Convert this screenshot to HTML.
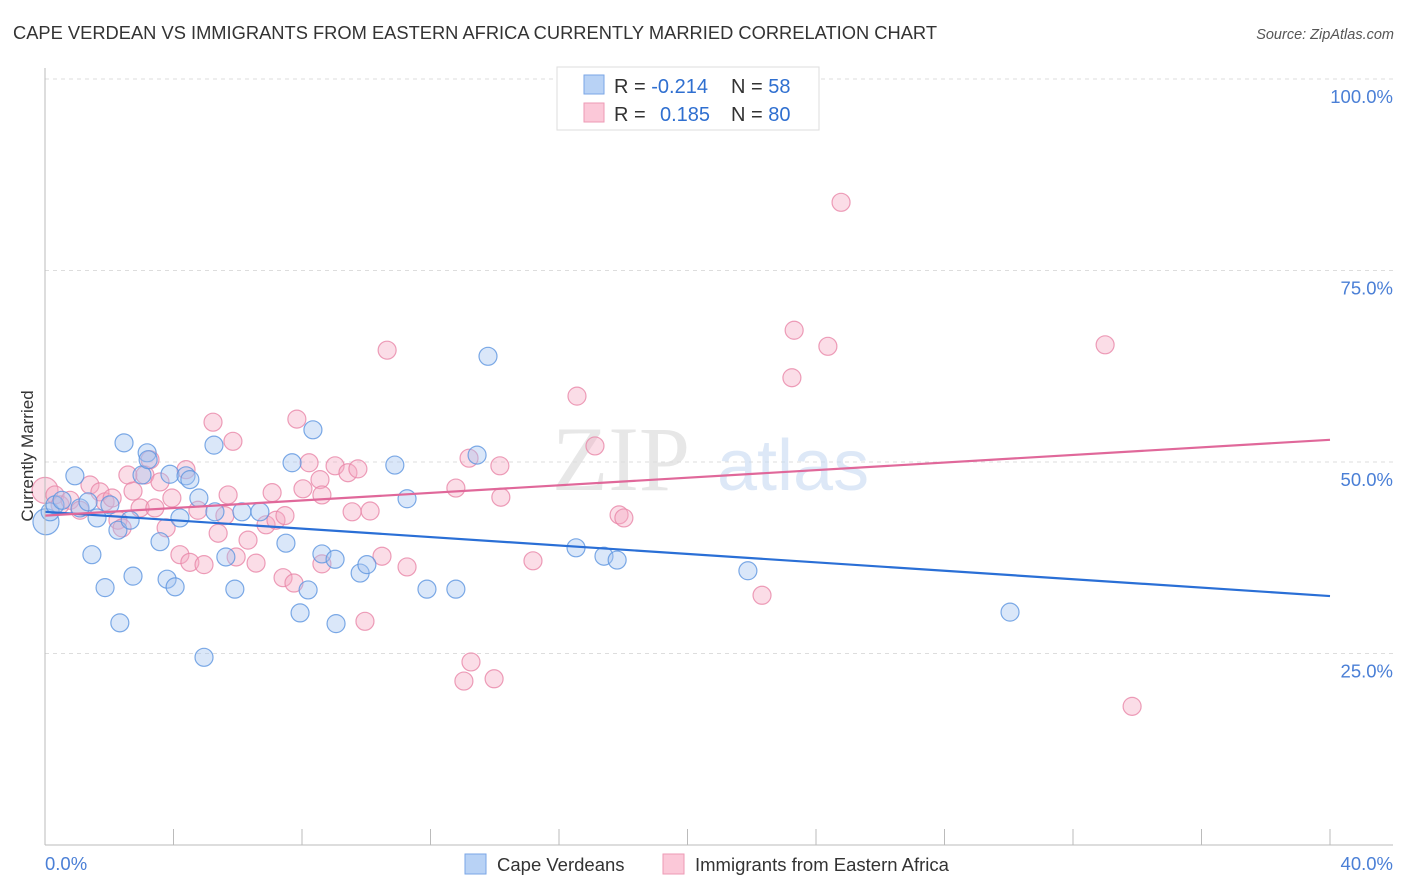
<!DOCTYPE html>
<html><head><meta charset="utf-8"><style>
body{margin:0;background:#fff;font-family:"Liberation Sans",sans-serif}
svg{display:block}
</style></head><body>
<svg width="1406" height="892" xmlns="http://www.w3.org/2000/svg">
<text x="13" y="39" font-size="18" textLength="924" lengthAdjust="spacingAndGlyphs" fill="#333">CAPE VERDEAN VS IMMIGRANTS FROM EASTERN AFRICA CURRENTLY MARRIED CORRELATION CHART</text>
<text x="1394" y="39" font-size="14.5" fill="#555" font-style="italic" text-anchor="end">Source: ZipAtlas.com</text>
<g id="grid"></g>
<text x="690" y="490" font-size="92" fill="#ddd" font-family="Liberation Serif" text-anchor="end" opacity="0.7">ZIP</text>
<text x="717" y="490" font-size="72" fill="#c8daf2" opacity="0.6">atlas</text>
<g id="pts"></g>
<g id="lines"></g>
<g id="axes"></g>
<text x="33" y="456" font-size="17" fill="#333" text-anchor="middle" transform="rotate(-90 33 456)">Currently Married</text>
<g>
<rect x="557" y="67" width="262" height="63" fill="#fff" stroke="#ddd"/>
<rect x="584" y="75" width="20" height="19" fill="#b8d2f5" stroke="#7aa6e6"/>
<rect x="584" y="103" width="20" height="19" fill="#fbc8d8" stroke="#ee9ab5"/>
<text x="614" y="93" font-size="20" fill="#333">R = <tspan fill="#2f6fd0">-0.214</tspan><tspan x="731">N = </tspan><tspan fill="#2f6fd0">58</tspan></text>
<text x="614" y="121" font-size="20" fill="#333">R = <tspan x="660" fill="#2f6fd0">0.185</tspan><tspan x="731">N = </tspan><tspan fill="#2f6fd0">80</tspan></text>
</g>
<g>
<rect x="465" y="854" width="21" height="20" fill="#b8d2f5" stroke="#7aa6e6"/>
<text x="497" y="871" font-size="18.5" fill="#333">Cape Verdeans</text>
<rect x="663" y="854" width="21" height="20" fill="#fbc8d8" stroke="#ee9ab5"/>
<text x="695" y="871" font-size="18.5" fill="#333">Immigrants from Eastern Africa</text>
</g>
</svg>
<script>
const blueX=[0.03,0.16,0.31,0.53,0.93,1.09,1.34,1.46,1.62,1.87,2.02,2.27,2.33,2.46,2.65,2.74,3.02,3.18,3.21,3.58,3.80,3.89,4.05,4.20,4.39,4.51,4.79,4.95,5.26,5.29,5.63,5.91,6.13,6.69,7.50,7.69,7.94,8.19,8.34,8.62,9.03,9.06,9.81,10.02,10.89,11.27,11.89,12.79,13.45,13.79,16.53,17.40,17.81,21.88,30.04];
const blueY=[42.2,43.5,44.4,45.0,48.2,44.0,44.8,37.9,42.7,33.6,44.4,41.1,29.0,52.5,42.4,35.1,48.3,51.2,50.3,39.6,34.7,48.4,33.7,42.7,48.2,47.7,45.3,24.5,52.2,43.5,37.6,33.4,43.5,43.5,39.4,49.9,30.3,33.3,54.2,38.0,37.3,28.9,35.5,36.6,49.6,45.2,33.4,33.4,50.9,63.8,38.8,37.7,37.2,35.8,30.4];
const pinkX=[0,0.31,0.47,0.78,1.09,1.40,1.71,1.87,2.09,2.27,2.40,2.58,2.74,2.96,3.11,3.27,3.42,3.58,3.77,3.95,4.20,4.39,4.51,4.76,4.95,5.23,5.39,5.60,5.70,5.85,5.95,6.32,6.57,6.88,7.07,7.19,7.41,7.47,7.75,7.84,8.03,8.22,8.56,8.62,8.62,9.03,9.43,9.56,9.74,9.96,10.12,10.49,10.65,11.27,12.79,13.04,13.20,13.26,13.98,14.16,14.19,15.19,16.56,17.12,17.87,18.02,22.32,23.25,23.32,24.37,24.78,33.00,33.84];
const pinkY=[46.3,45.7,44.4,45.0,43.7,47.0,46.1,44.8,45.3,42.4,41.4,48.3,46.2,44.0,48.3,50.3,44.0,47.4,41.4,45.3,37.9,49.0,36.9,43.7,36.6,55.2,40.7,43.0,45.7,52.7,37.6,39.8,36.8,41.8,46.0,42.4,34.9,43.0,34.2,55.6,46.5,49.9,47.7,45.7,36.7,49.5,48.6,43.5,49.1,29.2,43.6,37.7,64.6,36.3,46.6,21.4,50.5,23.9,21.7,49.5,45.4,37.1,58.6,52.1,43.1,42.7,32.6,61.0,67.2,65.1,83.9,65.3,18.1];
const blueTrend=[43.5,32.5];
const pinkTrend=[43.0,52.9];
const yTicks=[25,50,75,100];
const yTickLabels=["25.0%","50.0%","75.0%","100.0%"];
const xTickLabels=["0.0%","40.0%"];
const NS="http://www.w3.org/2000/svg";
const sx=v=>45+v/40*1285, sy=v=>845-v/100*766;
function mk(t,a,p){const e=document.createElementNS(NS,t);for(const k in a)e.setAttribute(k,a[k]);document.getElementById(p).appendChild(e);return e;}
yTicks.forEach((t,i)=>{
 const l=mk('line',{x1:45,x2:1393,y1:sy(t),y2:sy(t),stroke:'#ddd','stroke-dasharray':'4,4'},'grid');
 
 
 const tx=mk('text',{x:1393,y:sy(t)+24,'font-size':18.5,fill:'#4a7fd6','text-anchor':'end'},'axes');
 tx.textContent=yTickLabels[i];
 
 
});
const ax=mk('line',{x1:45,x2:1393,y1:845,y2:845,stroke:'#bbb'},'axes');


const ay=mk('line',{x1:45,x2:45,y1:68,y2:845,stroke:'#bbb'},'axes');


for(let i=0;i<=10;i++){const t=mk('line',{x1:sx(i*4),x2:sx(i*4),y1:829,y2:845,stroke:'#bbb'},'axes');
 
 }
[[0,'start',45],[40,'end',1393]].forEach((d,i)=>{const t=mk('text',{x:d[2],y:870,'font-size':18.5,fill:'#4a7fd6','text-anchor':d[1]},'axes');t.textContent=xTickLabels[i];
 
 });
function pts(X,Y,fill,stroke,name){X.forEach((x,i)=>{const c=mk('circle',{cx:sx(x),cy:sy(Y[i]),r:(i==0&&x<0.1)?13:9,fill:fill,'fill-opacity':0.4,stroke:stroke,'stroke-width':1.2,'stroke-opacity':0.8},'pts');
 
 });}
pts(pinkX,pinkY,'#f4a9c2','#e886a7','point-eastern-africa');
pts(blueX,blueY,'#a3c4f0','#5d95e0','point-cape-verdean');
const bl=mk('line',{x1:sx(0),y1:sy(blueTrend[0]),x2:sx(40),y2:sy(blueTrend[1]),stroke:'#2a6fd6','stroke-width':2.2},'lines');


const pl=mk('line',{x1:sx(0),y1:sy(pinkTrend[0]),x2:sx(40),y2:sy(pinkTrend[1]),stroke:'#e0689a','stroke-width':2.2},'lines');


</script>
</body></html>
